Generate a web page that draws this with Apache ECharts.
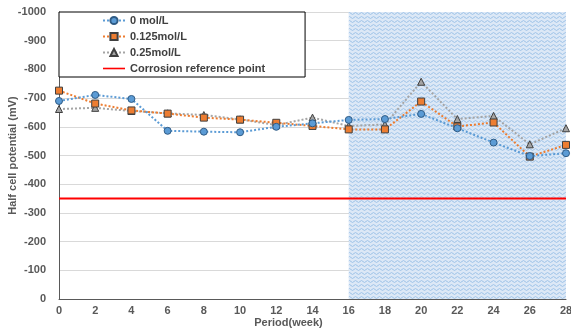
<!DOCTYPE html>
<html>
<head>
<meta charset="utf-8">
<script src="https://cdn.jsdelivr.net/npm/echarts@6/dist/echarts.min.js"></script>
<style>
  html, body { margin: 0; padding: 0; background: #fff; }
  #chart { width: 571px; height: 334px; }
</style>
</head>
<body>
<div id="chart"></div>
<script>
// 读图得到的数据（mV）
const weeks = [0, 2, 4, 6, 8, 10, 12, 14, 16, 18, 20, 22, 24, 26, 28]
const mol0 = [-690, -711, -697, -586, -583, -581, -600, -612, -624, -627, -645, -595, -545, -498, -508]
const mol0125 = [-726, -681, -657, -646, -632, -625, -614, -603, -591, -591, -688, -601, -615, -496, -537]
const mol025 = [-662, -666, -655, -647, -641, -626, -606, -632, -603, -608, -757, -627, -638, -539, -595]
const referencePoint = -350
const shadedWeeks = [16, 28]
const yTicks = { min: -1000, max: 0, interval: 100 }
const xTicks = { min: 0, max: 28, interval: 2 }

function pair (xs, ys) {
  return xs.map((x, i) => [x, ys[i]])
}

// 波纹填充
function wavePattern () {
  const c = document.createElement('canvas')
  c.width = 6
  c.height = 4
  const ctx = c.getContext('2d')
  ctx.fillStyle = '#dce8f6'
  ctx.fillRect(0, 0, 6, 4)
  ctx.strokeStyle = '#9ec3e8'
  ctx.lineWidth = 1
  ctx.beginPath()
  ctx.moveTo(0, 1.5)
  ctx.lineTo(1.5, 0.5)
  ctx.lineTo(3, 1.5)
  ctx.lineTo(4.5, 2.5)
  ctx.lineTo(6, 1.5)
  ctx.stroke()
  return c
}

const font = 'Liberation Sans'
const labelStyle = { color: '#595959', fontSize: 11, fontWeight: 'bold', fontFamily: font }
const dotted = [2, 2]

const chart = echarts.init(document.getElementById('chart'))
const option = {
  animation: false,
  textStyle: { fontFamily: font },
  grid: { left: 59, right: 5, top: 12, bottom: 35, outerBoundsMode: 'none', containLabel: false },
  legend: {
    orient: 'vertical',
    left: 59,
    top: 12,
    padding: [3, 40, 3, 43],
    itemGap: 5,
    itemWidth: 22,
    itemHeight: 9,
    backgroundColor: '#fff',
    borderColor: '#000',
    borderWidth: 1,
    textStyle: { color: '#404040', fontSize: 11, fontWeight: 'bold', fontFamily: font },
    data: [
      '0 mol/L',
      '0.125mol/L',
      '0.25mol/L',
      { name: 'Corrosion reference point', icon: 'path://M0,4L22,4L22,5.6L0,5.6Z' }
    ]
  },
  xAxis: {
    type: 'value',
    min: xTicks.min,
    max: xTicks.max,
    interval: xTicks.interval,
    name: 'Period(week)',
    nameLocation: 'middle',
    nameGap: 18,
    nameMoveOverlap: false,
    nameTextStyle: Object.assign({ padding: [0, 48, 0, 0] }, labelStyle),
    axisLine: { lineStyle: { color: '#595959', width: 1 } },
    axisTick: { show: false },
    splitLine: { show: false },
    axisLabel: Object.assign({ margin: 6 }, labelStyle)
  },
  yAxis: {
    type: 'value',
    inverse: true,
    min: yTicks.min,
    max: yTicks.max,
    interval: yTicks.interval,
    name: 'Half cell potential (mV)',
    nameLocation: 'middle',
    nameGap: 41,
    nameMoveOverlap: false,
    nameTextStyle: labelStyle,
    axisLine: { show: true, lineStyle: { color: '#595959', width: 1 } },
    axisTick: { show: false },
    splitLine: { lineStyle: { color: '#d9d9d9', width: 1 } },
    axisLabel: Object.assign({ margin: 13, formatter: v => String(v) }, labelStyle)
  },
  series: [
    {
      name: '0 mol/L',
      type: 'line',
      data: pair(weeks, mol0),
      symbol: 'circle',
      symbolSize: 7,
      z: 5,
      lineStyle: { color: '#5b9bd5', width: 2, type: dotted },
      itemStyle: { color: '#5b9bd5', borderColor: '#2f5b85', borderWidth: 1 },
      markArea: {
        silent: true,
        itemStyle: { color: { image: wavePattern(), repeat: 'repeat' } },
        data: [[{ xAxis: shadedWeeks[0] }, { xAxis: shadedWeeks[1] }]]
      }
    },
    {
      name: '0.125mol/L',
      type: 'line',
      data: pair(weeks, mol0125),
      symbol: 'rect',
      symbolSize: 7,
      z: 4,
      lineStyle: { color: '#ed7d31', width: 2, type: dotted },
      itemStyle: { color: '#ed7d31', borderColor: '#404040', borderWidth: 1 }
    },
    {
      name: '0.25mol/L',
      type: 'line',
      data: pair(weeks, mol025),
      symbol: 'triangle',
      symbolSize: 7,
      z: 3,
      lineStyle: { color: '#a5a5a5', width: 2, type: dotted },
      itemStyle: { color: '#a5a5a5', borderColor: '#404040', borderWidth: 1 }
    },
    {
      name: 'Corrosion reference point',
      type: 'line',
      data: [[xTicks.min, referencePoint], [xTicks.max, referencePoint]],
      symbol: 'none',
      z: 2,
      lineStyle: { color: '#ff0000', width: 2 },
      itemStyle: { color: '#ff0000' }
    }
  ]
}
chart.setOption(option)
</script>
</body>
</html>
